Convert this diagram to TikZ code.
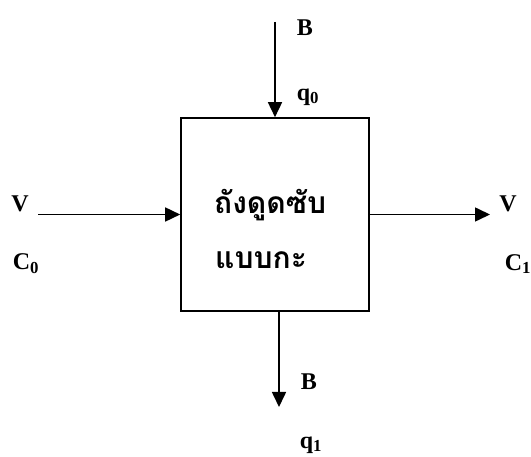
\documentclass[tikz,border=0pt]{standalone}
\usepackage{fontspec}
\setmainfont{Liberation Serif}
\newfontfamily\thaifont[Script=Thai]{Loma}
\usetikzlibrary{arrows.meta}
\begin{document}
\begin{tikzpicture}[x=1pt,y=1pt,
  lbl/.style={font=\fontsize{24}{28}\selectfont\bfseries, inner sep=0pt},
  thai/.style={font=\thaifont\fontsize{30}{34}\selectfont\bfseries, inner sep=0pt, anchor=west},
  arr/.style={line width=1.6pt, -{Triangle[length=15pt,width=14pt]}},
  tank/.style={draw, line width=1.6pt, minimum width=188pt, minimum height=193pt, inner sep=0pt}]
\useasboundingbox (0,0) rectangle (531,456);
\node[tank] (box) at (275,241.5) {};
\coordinate (top) at (275,434);
\coordinate (lin) at (38,241.5);
\coordinate (rout) at (490,241.5);
\coordinate (bot) at (279,49);
\draw[arr] (top) -- (box.north);
\draw[arr] (lin) -- (box.west);
\draw[arr] (box.east) -- (rout);
\draw[arr] (bot |- box.south) -- (bot);
\node[lbl] (bt) at (305,428) {B};
\node[lbl] (q0) at (308,359) {q\textsubscript{0}};
\node[lbl] (vl) at (20,252) {V};
\node[lbl] (c0) at (26,192) {C\textsubscript{0}};
\node[lbl] (vr) at (508,252) {V};
\node[lbl] (c1) at (518,192) {C\textsubscript{1}};
\node[lbl] (bb) at (309,74) {B};
\node[lbl] (q1) at (311,11) {q\textsubscript{1}};
\node[thai] (t1) at (214,251) {ถังดูดซับ};
\node[thai] (t2) at (215,196) {แบบกะ};
\end{tikzpicture}
\end{document}
